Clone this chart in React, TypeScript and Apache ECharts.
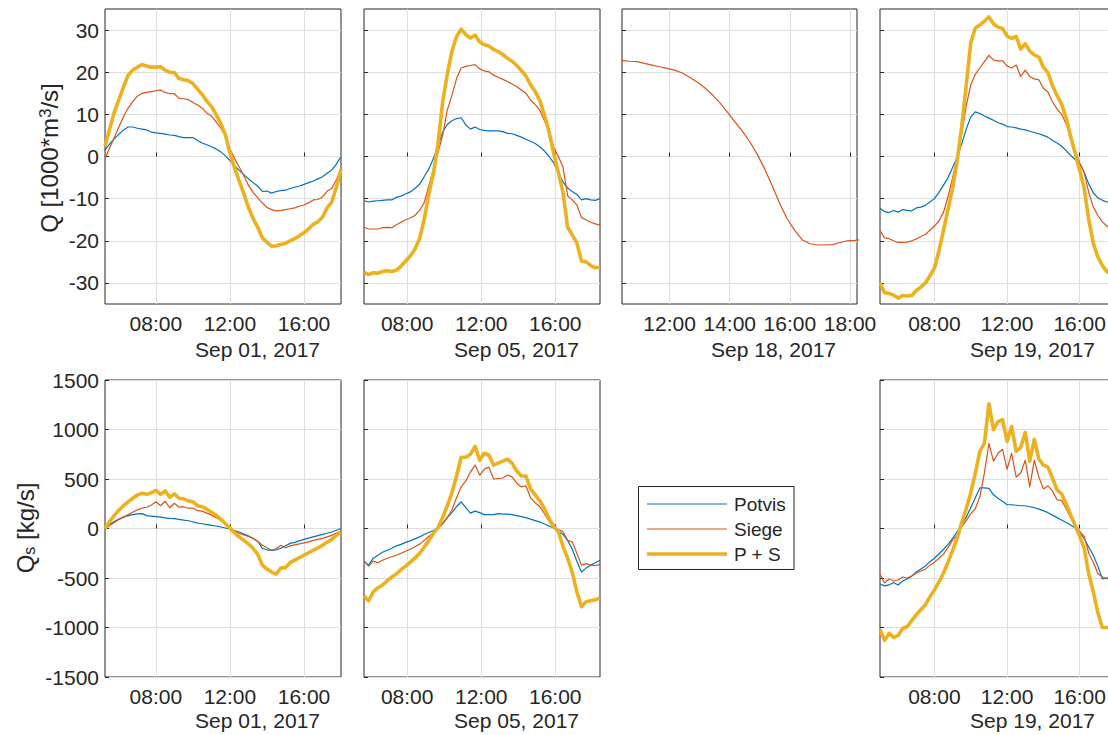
import React, { useEffect, useRef } from 'react';
import * as echarts from 'echarts';

const FONT = '"Liberation Sans", Arial, Helvetica, sans-serif';
const TEXT = '#262626';
const GRID_COLOR = '#dedede';
const TICK_FONT = 21;
const LABEL_FONT = 24;
const LEGEND_FONT = 19;
const SERIES_NAMES = ['Potvis', 'Siege', 'P + S'];
const COLORS: Record<string, string> = { Potvis: '#0072BD', Siege: '#D95319', 'P + S': '#EDB120' };
const WIDTHS: Record<string, number> = { Potvis: 1.2, Siege: 1.2, 'P + S': 3.6 };

// sampling interval of all records, in hours
const STEP_H = 0.25;
const sep01Start = 5.25;
const sep05Start = 5 + 40 / 60;
const sep18Start = 10 + 25 / 60;
const sep19Start = 5;

// ---- Q [1000*m^3/s] ----
const sep01Q_Potvis = [1.5, 3.0, 4.2, 5.3, 6.3, 7.0, 7.0, 6.7, 6.5, 6.3, 5.8, 5.6, 5.5, 5.3, 5.1, 5.0, 4.7, 4.5, 4.5, 4.5, 3.8, 3.2, 2.8, 2.3, 1.8, 1.1, 0.2, -1.0, -2.2, -3.3, -4.3, -5.3, -6.2, -7.0, -8.3, -8.2, -8.7, -8.3, -8.1, -8.0, -7.6, -7.3, -7.0, -6.6, -6.2, -5.8, -5.3, -4.8, -4.0, -3.2, -1.8, 0.0];
const sep01Q_Siege = [-0.5, 2.0, 4.5, 7.0, 9.5, 11.5, 13.0, 14.3, 15.0, 15.2, 15.4, 15.6, 15.8, 15.2, 14.9, 14.9, 13.8, 13.7, 13.5, 12.8, 12.2, 11.5, 10.3, 9.6, 8.2, 6.8, 5.0, 1.8, -0.5, -2.5, -4.5, -6.8, -8.5, -9.8, -11.0, -12.1, -12.6, -12.9, -12.8, -12.6, -12.4, -12.2, -11.8, -11.5, -11.0, -10.3, -10.2, -9.6, -8.2, -7.6, -5.5, -3.0];
const sep01Q_PS = [2.5, 6.5, 10.5, 13.5, 16.5, 19.3, 20.5, 21.2, 21.8, 21.5, 21.2, 21.2, 21.3, 20.5, 20.0, 19.9, 18.5, 18.2, 18.0, 17.3, 16.0, 14.7, 13.1, 11.9, 10.0, 7.9, 5.2, 0.8, -2.7, -5.8, -8.8, -12.1, -14.7, -16.8, -19.3, -20.3, -21.3, -21.2, -20.9, -20.6, -20.0, -19.5, -18.8, -18.1, -17.2, -16.1, -15.5, -14.4, -12.2, -10.8, -7.3, -3.0];

const sep05Q_Potvis = [-10.5, -10.8, -10.6, -10.5, -10.4, -10.3, -10.3, -9.7, -9.4, -8.9, -8.4, -7.6, -6.6, -4.8, -3.0, -0.5, 2.5, 5.8, 7.6, 8.5, 9.0, 9.2, 7.5, 6.5, 7.0, 6.4, 6.2, 6.1, 6.1, 6.1, 5.9, 5.5, 5.4, 5.0, 4.6, 4.1, 3.6, 3.1, 2.3, 1.3, 0.0, -1.5, -3.8, -6.0, -7.5, -8.3, -9.0, -10.3, -10.0, -10.3, -10.4, -10.0];
const sep05Q_Siege = [-16.8, -17.2, -17.2, -17.2, -16.9, -16.8, -16.9, -16.2, -15.6, -15.0, -14.6, -14.0, -12.8, -11.0, -7.0, -3.0, 1.0, 5.0, 11.0, 14.5, 18.5, 21.0, 21.4, 21.6, 21.8, 20.8, 20.3, 20.1, 19.3, 18.8, 18.3, 17.8, 17.2, 16.6, 15.8, 15.0, 13.4, 12.3, 11.0, 8.5, 5.8, 2.2, 0.0, -2.5, -9.3, -10.3, -11.5, -14.5, -15.0, -15.6, -16.0, -16.3];
const sep05Q_PS = [-27.5, -28.0, -27.6, -27.7, -27.3, -27.1, -27.3, -27.0, -26.0, -24.8, -23.6, -22.0, -19.5, -15.0, -9.0, -4.0, 3.0, 13.0, 19.5, 25.0, 28.5, 30.2, 28.9, 28.1, 28.8, 27.2, 26.5, 26.2, 25.4, 24.9, 24.2, 23.3, 22.6, 21.6, 20.4, 19.1, 17.0, 15.4, 13.3, 9.8, 5.8, 0.7, -3.8, -8.5, -16.8, -18.6, -20.5, -24.8, -25.0, -25.9, -26.4, -26.3];

const sep18Q_Siege = [22.8, 22.6, 22.5, 22.1, 21.7, 21.3, 20.9, 20.5, 19.8, 18.8, 17.7, 16.3, 14.7, 12.8, 10.6, 8.3, 6.0, 3.5, 0.5, -3.0, -7.0, -11.2, -14.9, -17.6, -19.8, -20.7, -21.0, -21.0, -20.9, -20.4, -20.0, -19.9, -19.7];

const sep19Q_Potvis = [-12.3, -13.1, -13.3, -12.8, -13.2, -12.6, -12.8, -12.9, -12.2, -12.0, -11.6, -10.8, -10.0, -8.5, -6.8, -5.0, -2.6, -0.2, 3.0, 6.5, 9.4, 10.6, 10.2, 9.6, 9.1, 8.6, 8.0, 7.7, 7.1, 7.0, 6.8, 6.5, 6.3, 6.0, 5.7, 5.4, 5.0, 4.6, 3.8, 3.2, 2.5, 1.4, 0.3, -0.7, -1.8, -3.8, -6.5, -8.6, -9.8, -10.4, -10.8, -11.0, -11.0];
const sep19Q_Siege = [-17.6, -19.3, -19.5, -20.0, -20.4, -20.4, -20.3, -20.0, -19.6, -19.0, -18.5, -17.5, -16.5, -15.3, -13.2, -9.5, -5.0, 0.0, 5.5, 12.0, 17.0, 19.5, 21.0, 22.5, 24.0, 22.9, 22.7, 22.7, 21.5, 21.0, 21.7, 19.0, 20.5, 19.0, 18.4, 18.2, 16.2, 15.3, 13.0, 11.3, 10.0, 7.8, 4.5, 1.5, -1.5, -3.8, -8.5, -12.0, -14.0, -15.5, -16.5, -17.0, -17.3];
const sep19Q_PS = [-30.0, -32.3, -32.5, -32.9, -33.6, -33.0, -33.1, -33.0, -31.8, -31.0, -30.0, -28.3, -26.5, -22.3, -17.5, -12.5, -7.5, -1.0, 7.0, 17.0, 27.0, 30.5, 31.2, 32.1, 33.1, 31.5, 30.7, 30.4, 28.6, 28.0, 28.5, 25.5, 26.8, 25.0, 24.1, 23.6, 21.2, 19.9, 16.8, 14.5, 12.5, 9.2, 4.8, 0.8, -3.3, -7.6, -15.0, -20.6, -23.8, -25.9, -27.3, -28.0, -28.3];

// ---- Qs [kg/s] ----
const sep01Qs_Potvis = [10, 40, 70, 95, 115, 130, 140, 148, 150, 130, 125, 120, 115, 108, 103, 100, 92, 85, 78, 68, 55, 48, 40, 32, 25, 15, 5, -5, -20, -35, -55, -75, -100, -130, -200, -215, -220, -215, -200, -175, -150, -140, -125, -110, -98, -85, -72, -60, -48, -35, -18, 0];
const sep01Qs_Siege = [-10, 30, 60, 90, 115, 140, 165, 190, 205, 215, 235, 270, 230, 275, 210, 255, 215, 220, 205, 205, 180, 175, 155, 135, 110, 80, 45, 10, -25, -50, -65, -80, -100, -130, -170, -195, -220, -205, -170, -195, -175, -165, -155, -145, -135, -120, -110, -100, -85, -70, -45, -25];
const sep01Qs_PS = [0, 70, 130, 185, 230, 270, 305, 338, 355, 345, 360, 385, 345, 380, 315, 350, 305, 300, 280, 270, 230, 220, 195, 165, 135, 95, 50, 5, -45, -85, -120, -155, -200, -260, -370, -410, -440, -460, -400, -395, -345, -320, -295, -270, -245, -220, -195, -170, -140, -110, -70, -35];

const sep05Qs_Potvis = [-330, -370, -300, -270, -240, -220, -200, -175, -160, -140, -125, -105, -85, -60, -40, -20, 5, 50, 110, 160, 220, 270, 210, 155, 175, 160, 140, 140, 140, 150, 145, 145, 140, 130, 120, 110, 95, 80, 65, 45, 25, 5, -20, -60, -120, -210, -330, -440, -400, -370, -345, -320];
const sep05Qs_Siege = [-330, -380, -330, -345, -320, -300, -285, -270, -250, -230, -210, -185, -160, -120, -80, -40, 0, 50, 110, 190, 310, 420, 480, 570, 640, 540, 600, 620, 500, 505, 510, 540, 520, 460, 420, 430, 310, 260, 220, 150, 70, 10, -10, -30, -120, -135, -250, -370, -355, -370, -375, -365];
const sep05Qs_PS = [-680, -730, -640, -600, -570, -530, -490, -460, -415, -380, -340, -300, -250, -190, -120, -50, 10, 110, 230, 360, 530, 720, 720, 750, 830, 690, 760, 740, 640, 660, 680, 700, 660, 580, 530, 530, 400, 340, 280, 200, 100, 20, -30, -180, -300, -440, -640, -790, -740, -730, -720, -700];

const sep19Qs_Potvis = [-560, -580, -570, -545, -570, -530, -510, -480, -440, -410, -380, -335, -300, -255, -210, -160, -100, -35, 40, 115, 210, 310, 410, 410, 405, 340, 305, 275, 240, 240, 235, 230, 230, 220, 210, 195, 180, 160, 135, 110, 85, 60, 35, 5, -50, -100, -190, -270, -380, -510, -500, -480, -470];
const sep19Qs_Siege = [-460, -550, -510, -530, -520, -490, -500, -480, -450, -430, -410, -370, -340, -300, -260, -190, -120, -70, 20, 80, 150, 200, 320, 560, 860, 680, 760, 800, 600, 760, 520, 560, 690, 420, 690, 520, 400, 430, 380, 290, 285, 200, 110, 30, -30, -80, -250, -340, -455, -490, -505, -510, -520];
const sep19Qs_PS = [-1020, -1130, -1060, -1100, -1080, -1010, -990, -930, -870, -820, -770, -690, -620, -540, -450, -340, -220, -100, 60, 200, 360, 560, 780, 860, 1260, 1000, 1080, 1100, 880, 1030, 780, 820, 970, 680, 900, 700, 640, 620, 510, 390, 350, 250, 140, 30, -80, -200, -460, -640, -850, -1000, -1000, -1000, -1000];

// ---- axes ----
const hourTicks = [8, 12, 16];
const hourTicksSep18 = [12, 14, 16, 18];
const qTicks = [-30, -20, -10, 0, 10, 20, 30];
const qsTicks = [-1500, -1000, -500, 0, 500, 1000, 1500];
const qRange = [-35, 35];
const qsRange = [-1500, 1500];
const dateLabels = ['Sep 01, 2017', 'Sep 05, 2017', 'Sep 18, 2017', 'Sep 19, 2017', 'Sep 01, 2017', 'Sep 05, 2017', 'Sep 19, 2017'];

type Panel = {
  start: number; xMin: number; xMax: number; ticks: number[]; row: number;
  series: Record<string, number[]>;
};

const panels: Panel[] = [
  { start: sep01Start, xMin: 5.25, xMax: 18, ticks: hourTicks, row: 0, series: { Potvis: sep01Q_Potvis, Siege: sep01Q_Siege, 'P + S': sep01Q_PS } },
  { start: sep05Start, xMin: 5 + 40 / 60, xMax: 18 + 25 / 60, ticks: hourTicks, row: 0, series: { Potvis: sep05Q_Potvis, Siege: sep05Q_Siege, 'P + S': sep05Q_PS } },
  { start: sep18Start, xMin: 10 + 25 / 60, xMax: 18 + 14 / 60, ticks: hourTicksSep18, row: 0, series: { Siege: sep18Q_Siege } },
  { start: sep19Start, xMin: 5, xMax: 18, ticks: hourTicks, row: 0, series: { Potvis: sep19Q_Potvis, Siege: sep19Q_Siege, 'P + S': sep19Q_PS } },
  { start: sep01Start, xMin: 5.25, xMax: 18, ticks: hourTicks, row: 1, series: { Potvis: sep01Qs_Potvis, Siege: sep01Qs_Siege, 'P + S': sep01Qs_PS } },
  { start: sep05Start, xMin: 5 + 40 / 60, xMax: 18 + 25 / 60, ticks: hourTicks, row: 1, series: { Potvis: sep05Qs_Potvis, Siege: sep05Qs_Siege, 'P + S': sep05Qs_PS } },
  { start: sep19Start, xMin: 5, xMax: 18, ticks: hourTicks, row: 1, series: { Potvis: sep19Qs_Potvis, Siege: sep19Qs_Siege, 'P + S': sep19Qs_PS } },
];

// layout of the plot boxes (px)
const boxes = [
  { left: 105, top: 9, width: 236, height: 295 },
  { left: 364, top: 9, width: 236, height: 295 },
  { left: 622, top: 9, width: 235, height: 295 },
  { left: 880, top: 9, width: 236, height: 295 },
  { left: 105, top: 380, width: 236, height: 297 },
  { left: 364, top: 380, width: 236, height: 297 },
  { left: 880, top: 380, width: 236, height: 297 },
];
// legend box layout (px)
const legendBox = { left: 638.5, top: 486.5, width: 155.5, height: 83, rowTop: 504, rowGap: 25, lineX0: 647, lineX1: 727, textX: 734 };

const hourFmt = (v: number) => `${String(Math.round(v)).padStart(2, '0')}:00`;

function buildOption() {
  const grid = boxes.map((b) => ({
    left: b.left, top: b.top, width: b.width, height: b.height,
    show: true, borderColor: TEXT, borderWidth: 1, backgroundColor: 'transparent',
    containLabel: false, outerBoundsMode: 'none',
  }));

  const xAxis = panels.map((p, i) => ({
    type: 'value', gridIndex: i, min: p.xMin, max: p.xMax,
    axisLine: { show: false },
    axisTick: { show: true, inside: true, length: 4, customValues: p.ticks, lineStyle: { color: TEXT } },
    axisLabel: { show: true, customValues: p.ticks, margin: 9, color: TEXT, fontSize: TICK_FONT, fontFamily: FONT, formatter: hourFmt },
    splitLine: { show: true, lineStyle: { color: GRID_COLOR, width: 1 } },
  }));

  const yAxis = panels.map((p, i) => {
    const ticks = p.row === 0 ? qTicks : qsTicks;
    const range = p.row === 0 ? qRange : qsRange;
    return {
      type: 'value', gridIndex: i, min: range[0], max: range[1],
      axisLine: { show: false },
      axisTick: { show: true, inside: true, length: 4, customValues: ticks, lineStyle: { color: TEXT } },
      axisLabel: {
        show: i === 0 || i === 4, customValues: ticks, margin: 6, color: TEXT,
        fontSize: TICK_FONT, fontFamily: FONT, formatter: (v: number) => String(v),
      },
      splitLine: { show: true, lineStyle: { color: GRID_COLOR, width: 1 } },
    };
  });

  const series: any[] = [];
  panels.forEach((p, i) => {
    SERIES_NAMES.forEach((n) => {
      const vals = p.series[n];
      if (!vals) return;
      series.push({
        type: 'line', name: n, xAxisIndex: i, yAxisIndex: i,
        data: vals.map((v, k) => [p.start + k * STEP_H, v]),
        symbol: 'none', showSymbol: false, clip: true, silent: true,
        lineStyle: { color: COLORS[n], width: WIDTHS[n], join: 'round' },
        itemStyle: { color: COLORS[n] },
        emphasis: { disabled: true },
      });
    });
  });

  const graphic: any[] = [
    {
      type: 'text', x: 49, y: 158, rotation: Math.PI / 2,
      style: {
        text: '{a|Q [1000*m}{sup|3}{a|/s]}', align: 'center', verticalAlign: 'middle',
        fill: TEXT, fontSize: LABEL_FONT, fontFamily: FONT,
        rich: {
          a: { fontSize: LABEL_FONT, fontFamily: FONT, fill: TEXT, lineHeight: 24, verticalAlign: 'bottom' },
          sup: { fontSize: 17, fontFamily: FONT, fill: TEXT, lineHeight: 17, padding: [0, 0, 19, 0], verticalAlign: 'top' },
        },
      },
    },
    {
      type: 'text', x: 25, y: 528, rotation: Math.PI / 2,
      style: {
        text: '{a|Q}{sub|s}{a| [kg/s]}', align: 'center', verticalAlign: 'middle',
        fill: TEXT, fontSize: LABEL_FONT, fontFamily: FONT,
        rich: {
          a: { fontSize: LABEL_FONT, fontFamily: FONT, fill: TEXT, lineHeight: 24, verticalAlign: 'top' },
          sub: { fontSize: 16, fontFamily: FONT, fill: TEXT, lineHeight: 16, padding: [16, 0, 0, 0], verticalAlign: 'bottom' },
        },
      },
    },
  ];
  boxes.forEach((b, i) => {
    graphic.push({
      type: 'text', x: b.left + b.width - 21, y: b.top + b.height + (i < 4 ? 45 : 43),
      style: { text: dateLabels[i], align: 'right', verticalAlign: 'middle', fill: TEXT, fontSize: TICK_FONT, fontFamily: FONT },
    });
  });

  // legend (MATLAB style box with line samples)
  const legendChildren: any[] = [
    {
      type: 'rect', shape: { x: legendBox.left, y: legendBox.top, width: legendBox.width, height: legendBox.height },
      style: { fill: '#ffffff', stroke: TEXT, lineWidth: 1 },
    },
  ];
  SERIES_NAMES.forEach((n, k) => {
    const y = legendBox.rowTop + k * legendBox.rowGap;
    legendChildren.push({
      type: 'line', shape: { x1: legendBox.lineX0, y1: y, x2: legendBox.lineX1, y2: y },
      style: { stroke: COLORS[n], lineWidth: WIDTHS[n] },
    });
    legendChildren.push({
      type: 'text', x: legendBox.textX, y,
      style: { text: n, align: 'left', verticalAlign: 'middle', fill: TEXT, fontSize: LEGEND_FONT, fontFamily: FONT },
    });
  });
  graphic.push({ type: 'group', id: 'legend', silent: true, children: legendChildren });

  return {
    animation: false,
    backgroundColor: '#ffffff',
    grid, xAxis, yAxis, series, graphic,
  };
}

export default function App() {
  const ref = useRef<HTMLDivElement>(null);
  useEffect(() => {
    if (!ref.current) return;
    const chart = echarts.init(ref.current, undefined, { renderer: 'svg' });
    chart.setOption(buildOption() as any);
    return () => chart.dispose();
  }, []);
  return (
    <div
      ref={ref}
      style={{ position: 'fixed', left: 0, top: 0, width: 1108, height: 735, background: '#ffffff' }}
    />
  );
}
